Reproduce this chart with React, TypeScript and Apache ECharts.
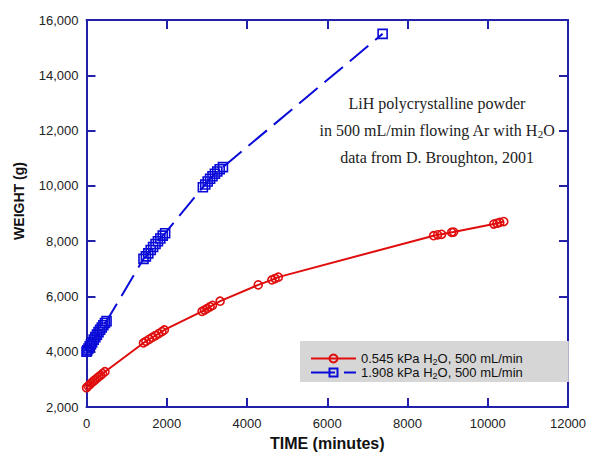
import React, { useEffect, useRef } from 'react';
import * as echarts from 'echarts';

// Red series: 0.545 kPa H2O
const redTime = [0, 40, 80, 120, 160, 200, 250, 300, 350, 400, 460,
  1420, 1480, 1560, 1640, 1720, 1800, 1880, 1940,
  2880, 2940, 3000, 3080, 3140, 3330,
  4280, 4620, 4700, 4780,
  8650, 8750, 8850, 9100, 9150,
  10150, 10230, 10300, 10400];
const redWeight = [2700, 2760, 2810, 2870, 2920, 2970, 3030, 3090, 3150, 3210, 3280,
  4320, 4380, 4450, 4520, 4590, 4660, 4730, 4790,
  5460, 5510, 5560, 5630, 5680, 5830,
  6420, 6600, 6650, 6700,
  8200, 8230, 8250, 8320, 8330,
  8620, 8650, 8680, 8710];

// Blue series: 1.908 kPa H2O
const blueTime = [0, 20, 50, 80, 110, 140, 180, 220, 260, 300, 340, 380, 420, 460, 500,
  1420, 1480, 1540, 1600, 1660, 1720, 1780, 1840, 1900, 1960,
  2900, 2960, 3020, 3080, 3140, 3200, 3260, 3320, 3400,
  7380];
const blueWeight = [4000, 4050, 4120, 4200, 4270, 4340, 4440, 4530, 4620, 4710, 4800, 4880, 4960, 5040, 5110,
  7360, 7450, 7560, 7680, 7790, 7900, 8000, 8100, 8200, 8290,
  9950, 10050, 10160, 10260, 10350, 10440, 10520, 10600, 10680,
  15500];

const seriesNames = ['0.545 kPa H2O, 500 mL/min', '1.908 kPa H2O, 500 mL/min'];
const legendRich = ['{t|0.545 kPa H}{s|2}{t|O, 500 mL/min}', '{t|1.908 kPa H}{s|2}{t|O, 500 mL/min}'];
const annotationLines = [
  '{t|LiH polycrystalline powder}',
  '{t|in 500 mL/min flowing Ar with H}{s|2}{t|O}',
  '{t|data from D. Broughton, 2001}',
];

const xMin = 0, xMax = 12000, xStep = 2000;
const yMin = 2000, yMax = 16000, yStep = 2000;

const RED = '#e00d0d';
const BLUE = '#0a0ad8';
const AXIS = '#2020a8';
const SANS = 'Arial, "Liberation Sans", sans-serif';
const SERIF = '"Times New Roman", "Liberation Serif", serif';

export default function App() {
  const ref = useRef<HTMLDivElement>(null);
  useEffect(() => {
    const chart = echarts.init(ref.current!, null, { renderer: 'svg' });
    const axisCommon = {
      type: 'value',
      axisLine: { show: true, onZero: false, lineStyle: { color: AXIS, width: 2 } },
      axisTick: { show: true, inside: true, length: 9, lineStyle: { color: AXIS, width: 2 } },
      splitLine: { show: false },
    };
    chart.setOption({
      animation: false,
      backgroundColor: '#ffffff',
      grid: { left: 86.5, right: 26, top: 20, bottom: 46 },
      xAxis: [
        {
          ...axisCommon, min: xMin, max: xMax, interval: xStep, position: 'bottom',
          axisLabel: { color: '#222', fontSize: 13, fontFamily: SANS, margin: 10, formatter: (v: number) => String(v) },
          name: 'TIME (minutes)', nameLocation: 'middle', nameGap: 21,
          nameTextStyle: { color: '#111', fontSize: 16, fontWeight: 'bold', fontFamily: SANS },
        },
        {
          ...axisCommon, min: xMin, max: xMax, interval: xStep, position: 'top',
          axisLabel: { show: false },
        },
      ],
      yAxis: [
        {
          ...axisCommon, min: yMin, max: yMax, interval: yStep, position: 'left',
          axisLabel: {
            color: '#222', fontSize: 13, fontFamily: SANS, margin: 8,
            formatter: (v: number) => v.toLocaleString('en-US'),
          },
        },
        {
          ...axisCommon, min: yMin, max: yMax, interval: yStep, position: 'right',
          axisLabel: { show: false },
        },
      ],
      legend: {
        orient: 'vertical',
        left: 300,
        top: 341,
        data: seriesNames,
        backgroundColor: '#d6d6d6',
        padding: [11, 46, 2, 10],
        itemWidth: 45,
        itemHeight: 10,
        itemGap: 0,
        selectedMode: false,
        formatter: (name: string) => legendRich[seriesNames.indexOf(name)],
        textStyle: {
          rich: {
            t: { fontSize: 13, lineHeight: 15, fontFamily: SANS, color: '#111' },
            s: { fontSize: 9, lineHeight: 7, verticalAlign: 'bottom', fontFamily: SANS, color: '#111' },
          },
        },
      },
      graphic: [
        {
          type: 'text', x: 19, y: 201, rotation: Math.PI / 2,
          style: {
            text: 'WEIGHT (g)', font: `bold 14px ${SANS}`, fill: '#111',
            align: 'center', verticalAlign: 'middle',
          },
        },
        ...annotationLines.map((txt, i) => ({
          type: 'text', x: 437, y: 103 + i * 27,
          style: {
            text: txt, align: 'center', verticalAlign: 'middle',
            rich: {
              t: { fontSize: 16, lineHeight: 18, fontFamily: SERIF, fill: '#222' },
              s: { fontSize: 11, lineHeight: 8, verticalAlign: 'bottom', fontFamily: SERIF, fill: '#222' },
            },
          },
        })),
      ],
      series: [
        {
          type: 'line', name: seriesNames[0],
          data: redTime.map((t, i) => [t, redWeight[i]]),
          symbol: 'circle', symbolSize: 8,
          smooth: false,
          lineStyle: { color: RED, width: 2 },
          itemStyle: { color: 'rgba(0,0,0,0)', borderColor: RED, borderWidth: 1.6 },
          emphasis: { disabled: true },
        },
        {
          type: 'line', name: seriesNames[1],
          data: blueTime.map((t, i) => [t, blueWeight[i]]),
          symbol: 'rect', symbolSize: 9,
          smooth: false,
          lineStyle: { color: BLUE, width: 2, type: [24, 9] },
          itemStyle: { color: 'rgba(0,0,0,0)', borderColor: BLUE, borderWidth: 1.6 },
          emphasis: { disabled: true },
        },
      ],
    });
    return () => chart.dispose();
  }, []);
  return <div ref={ref} style={{ position: 'fixed', left: 0, top: 0, width: 594, height: 456 }} />;
}
